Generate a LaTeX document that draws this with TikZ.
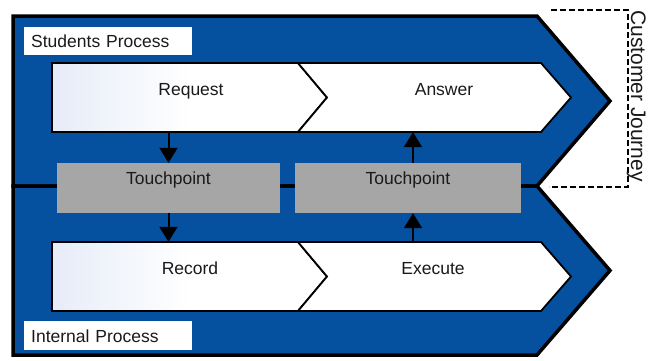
\documentclass[tikz,border=0pt]{standalone}
\usepackage{fontspec}
\setmainfont{Liberation Sans}
\usepackage{tikz}
\usetikzlibrary{arrows.meta,positioning,calc}
\definecolor{laneblue}{HTML}{0650A0}
\definecolor{tpgray}{HTML}{A6A6A6}
\definecolor{paleblue}{HTML}{E6ECF8}
\definecolor{inktext}{HTML}{1A1A1A}

\begin{document}
\begin{tikzpicture}[x=1pt,y=-1pt,
  lane/.style={draw=black, line width=3.5pt, fill=laneblue, line join=miter},
  stepshape/.style={draw=black, line width=1.8pt, left color=paleblue, right color=white, middle color=white},
  steptext/.style={rectangle, minimum height=69pt, inner sep=0pt, text height=13pt, text depth=18pt,
                   text=inktext, font=\fontsize{17.5}{20}\selectfont},
  touch/.style={rectangle, fill=tpgray, minimum height=50pt, inner sep=0pt, text height=13pt,
                text depth=21pt, text=inktext, font=\fontsize{17.5}{20}\selectfont},
  tag/.style={rectangle, fill=white, anchor=north west, inner xsep=7pt, inner ysep=0pt,
              text width=154pt, align=left, text height=13pt, text depth=0pt, text=inktext,
              font=\fontsize{17.5}{20}\selectfont},
  arr/.style={-{Triangle[length=15pt,width=18pt]}, line width=2pt, draw=black},
  journey/.style={draw=black, line width=2.5pt, dash pattern=on 6pt off 3pt}
]
  \path[use as bounding box] (0,0) rectangle (648,360);
  \clip (0,0) rectangle (648,360);

  % the two swim lanes
  \draw[lane] (13,16) -- (537,16) -- (610,101) -- (537,186) -- (13,186) -- cycle;
  \draw[lane] (13,186) -- (537,186) -- (610,270.5) -- (537,355) -- (13,355) -- cycle;
  \node[tag,minimum height=28pt] (studtag) at (24,27) {Students Process};
  \node[tag,minimum height=29pt] (inttag) at (24,321) {Internal Process};

  % process steps: a pointed first step, a notched second step
  \foreach \top/\mid/\bot in {63/97.5/132, 242/276.5/311}{
    \draw[stepshape] (52,\top) -- (298,\top) -- (327,\mid) -- (298,\bot) -- (52,\bot) -- cycle;
    \draw[stepshape, left color=white] (298,\top) -- (541,\top) -- (571,\mid) -- (541,\bot)
      -- (298,\bot) -- (327,\mid) -- cycle;
  }
  \node[steptext] (req) at (191,97.5) {Request};
  \node[steptext] (ans) at (444,97.5) {Answer};
  \node[steptext] (rec) at (190,276.5) {Record};
  \node[steptext] (exe) at (433,276.5) {Execute};

  % touchpoints on the lane border
  \node[touch,minimum width=223pt] (tp1) at (168.5,188) {Touchpoint};
  \node[touch,minimum width=226pt] (tp2) at (408,188) {Touchpoint};

  \draw[arr] (tp1.north |- req.south) -- (tp1.north);
  \draw[arr] (tp1.south) -- (tp1.south |- rec.north);
  \draw[arr] ([xshift=5pt]tp2.south |- exe.north) -- ([xshift=5pt]tp2.south);
  \draw[arr] ([xshift=5pt]tp2.north) -- ([xshift=5pt]tp2.north |- ans.south);

  % customer journey bracket
  \coordinate (jtop) at (551,10);
  \coordinate (jbot) at (549,187);
  \draw[journey] (jtop) -- ++(77,0) |- (jbot);
  \node[rotate=-90, anchor=base west, inner sep=0pt, text=inktext,
        font=\fontsize{21}{25}\selectfont] (cj) at (631,10) {Customer Journey};
\end{tikzpicture}
\end{document}
